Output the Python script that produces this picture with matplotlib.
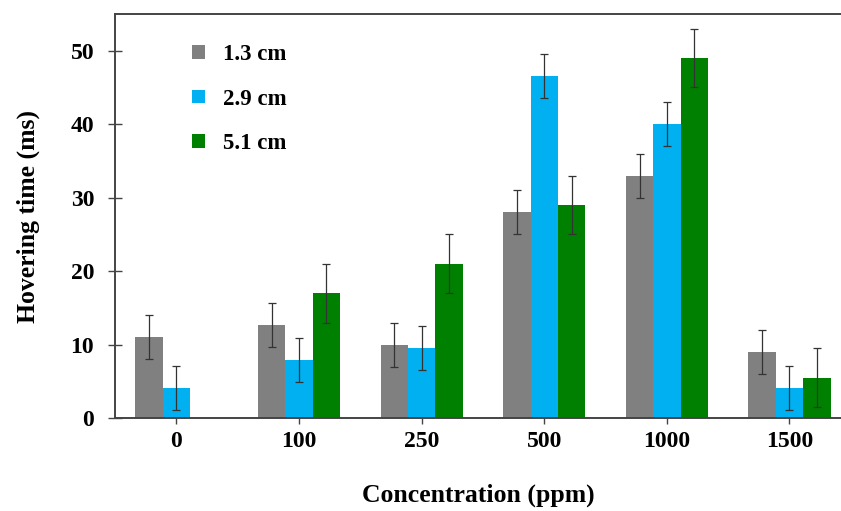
import numpy as np
import matplotlib
matplotlib.use('Agg')
import matplotlib.pyplot as plt

plt.rcParams['font.family'] = ['Liberation Serif', 'DejaVu Serif']
plt.rcParams['font.weight'] = 'bold'

concentrations = ['0', '100', '250', '500', '1000', '1500']
series_labels = ['1.3 cm', '2.9 cm', '5.1 cm']
time_13 = [11.0, 12.7, 10.0, 28.0, 33.0, 9.0]
time_29 = [4.1, 7.9, 9.5, 46.5, 40.0, 4.1]
time_51 = [np.nan, 17.0, 21.0, 29.0, 49.0, 5.5]
err_13 = [3, 3, 3, 3, 3, 3]
err_29 = [3, 3, 3, 3, 3, 3]
err_51 = [np.nan, 4, 4, 4, 4, 4]

colors = ['#808080', '#00B0F0', '#008000']
spine_col = '#444444'

fig = plt.figure(figsize=(8.41, 5.11), dpi=100)
ax = fig.add_axes([115 / 841, 93 / 511, 726 / 841, 404 / 511])

x = np.arange(len(concentrations))
w = 0.223
handles = []
for k, (vals, errs) in enumerate([(time_13, err_13), (time_29, err_29), (time_51, err_51)]):
    pos = x + (k - 1) * w
    b = ax.bar(pos, vals, width=w, color=colors[k], label=series_labels[k], zorder=2)
    ax.errorbar(pos, vals, yerr=errs, fmt='none', ecolor='#333333', elinewidth=0.9,
                capsize=3, capthick=0.9, zorder=3)
    handles.append(b)

ax.set_ylim(0, 55)
ax.set_xlim(-0.5, 5.42)
ax.set_yticks([0, 10, 20, 30, 40, 50])
ax.set_xticks(x)
ax.set_xticklabels(concentrations)

for s in ['left', 'bottom', 'top']:
    ax.spines[s].set_color(spine_col)
    ax.spines[s].set_linewidth(1.4)
ax.spines['right'].set_visible(False)

ax.tick_params(axis='y', direction='inout', length=10, width=1, color=spine_col,
               labelsize=17, pad=10)
ax.tick_params(axis='x', direction='inout', length=8, width=1, color=spine_col,
               labelsize=17, pad=5)

ax.set_xlabel('Concentration (ppm)', fontsize=18.5, fontweight='bold', labelpad=23)
ax.set_ylabel('Hovering time (ms)', fontsize=18.5, fontweight='bold', labelpad=22)

ax.legend(handles=handles, loc='upper left', bbox_to_anchor=(0.106, 0.925),
          frameon=False, fontsize=16.5, handlelength=0.55, handleheight=0.55,
          handletextpad=0.8, labelspacing=1.02, borderpad=0, borderaxespad=0)

plt.savefig('out.png', dpi=100)
